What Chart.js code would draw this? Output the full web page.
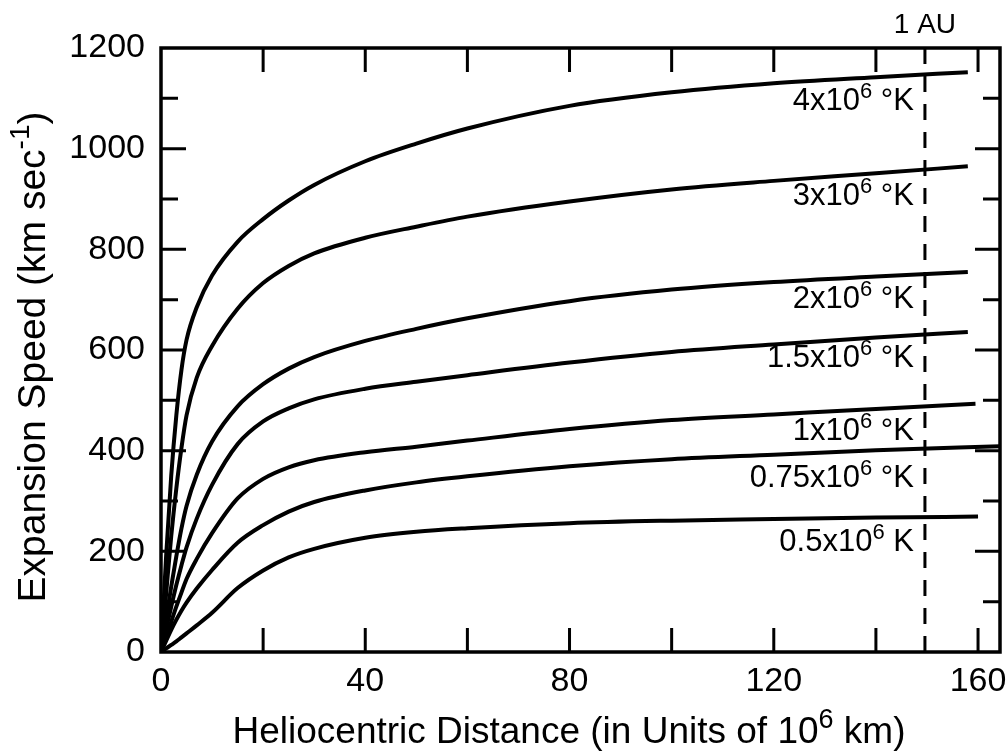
<!DOCTYPE html>
<html>
<head>
<meta charset="utf-8">
<script src="https://cdn.jsdelivr.net/npm/chart.js@4.4.1/dist/chart.umd.min.js"></script>
<style>
  html, body { margin: 0; padding: 0; background: #fff; }
  #wrap { width: 1008px; height: 754px; }
</style>
</head>
<body>
<div id="wrap"><canvas id="c" width="1008" height="754"></canvas></div>
<script>
// heliocentric distance (10^6 km), shared sample points; each curve adds its own end point
const distance = [0, 1, 2, 3, 4, 5, 7, 10, 15, 20, 25, 30, 40, 50, 60, 80, 100, 120, 140];
const endDistance = [158, 158, 158, 158, 159.5, 164.3, 160];

// expansion speed (km/s) per coronal temperature
const speed4 =   [0, 190, 350, 470, 560, 620, 685, 748, 815, 860, 897, 928, 975, 1010, 1040, 1085, 1112, 1130, 1142, 1152];
const speed3 =   [0, 115, 230, 325, 405, 470, 545, 608, 682, 733, 767, 792, 823, 845, 865, 895, 919, 936, 951, 965];
const speed2 =   [0, 65, 130, 190, 245, 290, 352, 418, 488, 532, 563, 586, 618, 642, 663, 697, 720, 735, 746, 755];
const speed15 =  [0, 45, 90, 133, 172, 208, 265, 332, 413, 458, 484, 502, 523, 537, 550, 575, 596, 611, 625, 636];
const speed1 =   [0, 30, 60, 90, 118, 145, 185, 236, 305, 344, 367, 381, 397, 408, 420, 443, 461, 472, 483, 493];
const speed075 = [0, 22, 44, 64, 82, 98, 126, 163, 217, 252, 279, 298, 321, 337, 349, 369, 383, 392, 401, 409];
const speed05 =  [0, 7, 14, 21, 29, 37, 53, 78, 127, 162, 188, 205, 227, 239, 246, 256, 261, 264, 267, 269];

// curve labels: [base, superscript, tail]
const curveLabels = [
  ['4x10', '6', ' \u00B0K'],
  ['3x10', '6', ' \u00B0K'],
  ['2x10', '6', ' \u00B0K'],
  ['1.5x10', '6', ' \u00B0K'],
  ['1x10', '6', ' \u00B0K'],
  ['0.75x10', '6', ' \u00B0K'],
  ['0.5x10', '6', ' K']
];
const curveLabelSpeed = [1076, 888, 683, 566, 421, 327, 200];

const auDistance = 149.6;
const xLabels = [0, 40, 80, 120, 160];
const yLabels = [0, 200, 400, 600, 800, 1000, 1200];
const xMarks = [20, 40, 60, 80, 100, 120, 140, 160];
const yMarks = [100, 200, 300, 400, 500, 600, 700, 800, 900, 1000, 1100];

const FONT = '"Liberation Sans", Arial, Helvetica, sans-serif';
const allSpeeds = [speed4, speed3, speed2, speed15, speed1, speed075, speed05];

function pts(vals, endX){
  return distance.concat([endX]).map((x, i) => ({ x: x, y: vals[i] }));
}

// draw text with superscript parts; parts = [text, sup?]
function richText(ctx, parts, x, y, size, align){
  const sup = Math.round(size * 0.72);
  let w = 0;
  parts.forEach(p => { ctx.font = (p[1] ? sup : size) + 'px ' + FONT; w += ctx.measureText(p[0]).width; });
  let cx = align === 'right' ? x - w : align === 'center' ? x - w / 2 : x;
  ctx.textAlign = 'left';
  ctx.textBaseline = 'alphabetic';
  parts.forEach(p => {
    ctx.font = (p[1] ? sup : size) + 'px ' + FONT;
    ctx.fillText(p[0], cx, p[1] ? y - size * 0.4 : y);
    cx += ctx.measureText(p[0]).width;
  });
}

const decorations = {
  id: 'decorations',
  afterDatasetsDraw(chart){
    const { ctx, chartArea: a, scales: { x, y } } = chart;
    ctx.save();
    ctx.strokeStyle = '#000';
    ctx.lineCap = 'butt';
    ctx.lineWidth = 3;
    ctx.beginPath();
    xMarks.forEach(v => {
      const px = x.getPixelForValue(v);
      ctx.moveTo(px, a.bottom); ctx.lineTo(px, a.bottom - 24);
      ctx.moveTo(px, a.top); ctx.lineTo(px, a.top + 24);
    });
    yMarks.forEach(v => {
      const py = y.getPixelForValue(v);
      const len = v % 200 === 0 ? 25 : 17;
      ctx.moveTo(a.left, py); ctx.lineTo(a.left + len, py);
      ctx.moveTo(a.right, py); ctx.lineTo(a.right - len, py);
    });
    ctx.stroke();
    ctx.lineWidth = 3.5;
    ctx.strokeRect(a.left, a.top, a.right - a.left, a.bottom - a.top);

    ctx.fillStyle = '#000';
    const lx = x.getPixelForValue(auDistance) - 11;
    curveLabels.forEach((parts, i) => {
      richText(ctx, [[parts[0]], [parts[1], true], [parts[2]]], lx, y.getPixelForValue(curveLabelSpeed[i]), 31, 'right');
    });
    richText(ctx, [['1 AU']], x.getPixelForValue(auDistance), a.top - 15, 28, 'center');

    richText(ctx, [['Heliocentric Distance (in Units of 10'], ['6', true], [' km)']], 569, 743, 37, 'center');
    ctx.translate(45, 357);
    ctx.rotate(-Math.PI / 2);
    richText(ctx, [['Expansion Speed (km sec'], ['-1', true], [')']], 0, 0, 39, 'center');
    ctx.restore();
  }
};

const datasets = allSpeeds.map((vals, i) => ({
  data: pts(vals, endDistance[i]),
  borderColor: '#000',
  borderWidth: 4,
  pointRadius: 0,
  cubicInterpolationMode: 'monotone',
  fill: false
}));
datasets.push({
  data: [{ x: auDistance, y: 0 }, { x: auDistance, y: 1200 }],
  borderColor: '#000',
  borderWidth: 3,
  borderDash: [16, 12],
  pointRadius: 0,
  fill: false
});

new Chart(document.getElementById('c'), {
  type: 'line',
  data: { datasets },
  plugins: [decorations],
  options: {
    responsive: false,
    animation: false,
    layout: { padding: { left: 0, right: 8, top: 48, bottom: 0 } },
    plugins: { legend: { display: false }, tooltip: { enabled: false } },
    scales: {
      x: {
        type: 'linear', min: 0, max: 164.3,
        afterBuildTicks: s => { s.ticks = xLabels.map(v => ({ value: v })); },
        afterFit: s => { s.height = 102; s.paddingLeft = 0; s.paddingRight = 0; },
        grid: { display: false, drawTicks: false },
        border: { display: false },
        ticks: { color: '#000', font: { family: FONT, size: 34 }, padding: 9, maxRotation: 0, autoSkip: false,
                 callback: v => String(v) }
      },
      y: {
        type: 'linear', min: 0, max: 1200,
        afterBuildTicks: s => { s.ticks = yLabels.map(v => ({ value: v })); },
        afterFit: s => { s.width = 161; s.paddingTop = 0; s.paddingBottom = 0; },
        grid: { display: false, drawTicks: false },
        border: { display: false },
        ticks: { color: '#000', font: { family: FONT, size: 34 }, padding: 16, autoSkip: false,
                 callback: v => String(v) }
      }
    }
  }
});
</script>
</body>
</html>
